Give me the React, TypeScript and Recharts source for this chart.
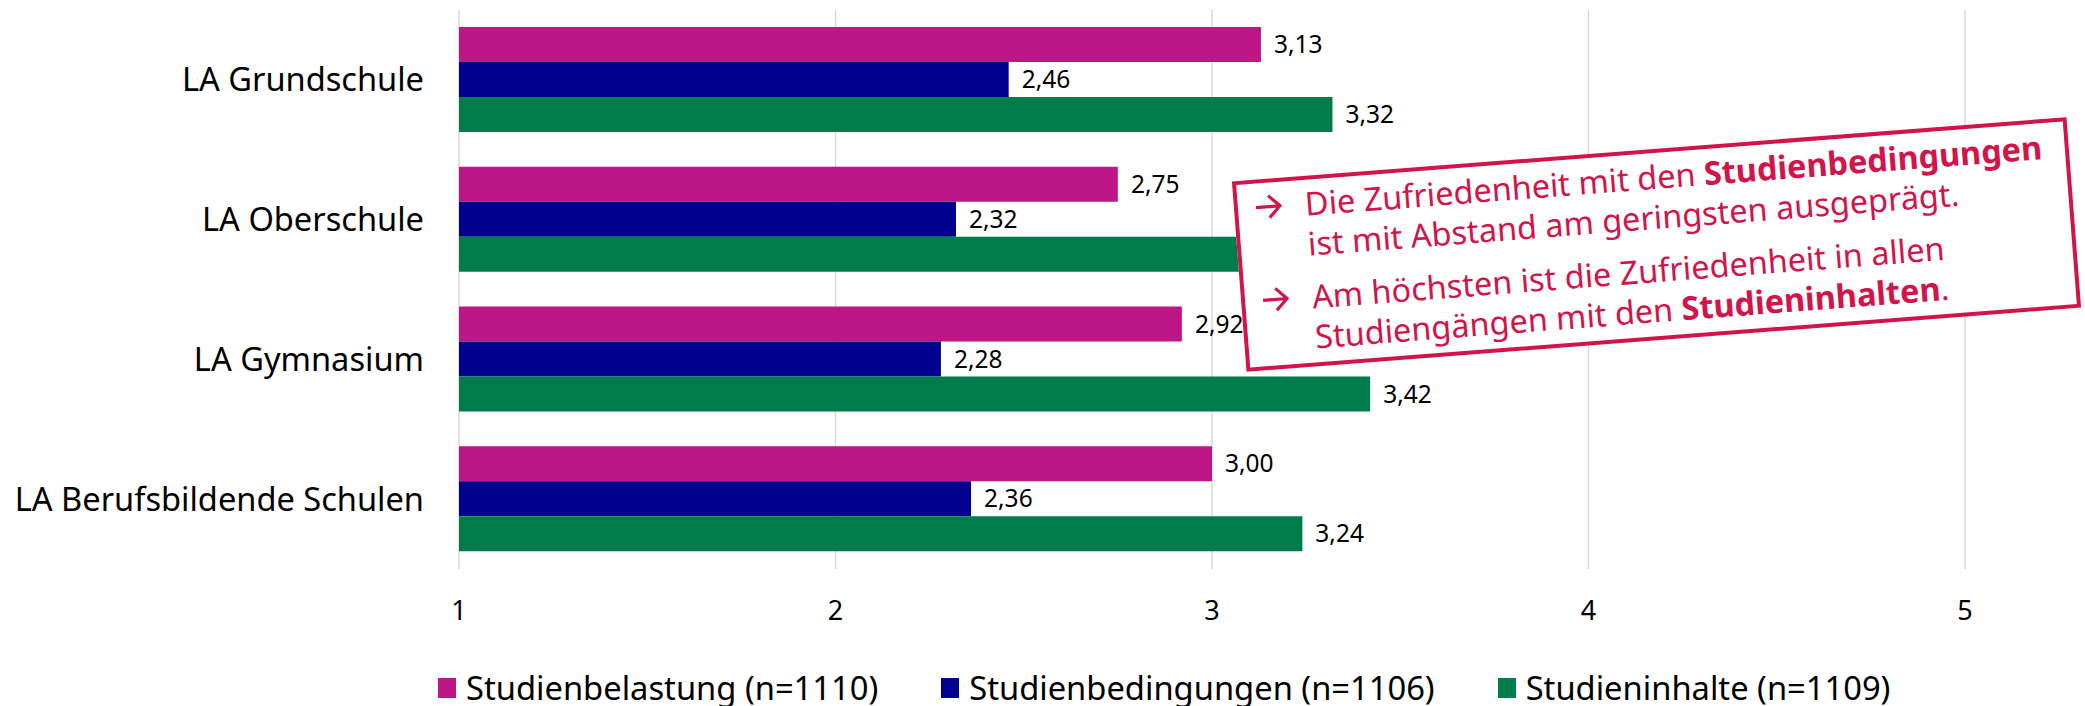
import React from "react";
import { BarChart, Bar, XAxis, YAxis, CartesianGrid, Legend, LabelList } from "recharts";

const categories = [
  "LA Grundschule",
  "LA Oberschule",
  "LA Gymnasium",
  "LA Berufsbildende Schulen",
];
const belastung = [3.13, 2.75, 2.92, 3.0];
const bedingungen = [2.46, 2.32, 2.28, 2.36];
const inhalte = [3.32, 3.3, 3.42, 3.24];
const xTicks = [1, 2, 3, 4, 5];
const seriesNames = [
  "Studienbelastung (n=1110)",
  "Studienbedingungen (n=1106)",
  "Studieninhalte (n=1109)",
];
const seriesColors = ["#bd1787", "#00008e", "#007b4c"];

const data = categories.map((name, i) => ({
  name,
  belastung: belastung[i],
  bedingungen: bedingungen[i],
  inhalte: inhalte[i],
}));

const fmt = (v: number) => v.toFixed(2).replace(".", ",");
const RED = "#d3144a";

function renderLegend() {
  return (
    <div style={{ display: "flex", paddingLeft: 438, gap: 63, alignItems: "center" }}>
      {seriesNames.map((n, i) => (
        <div key={n} style={{ display: "flex", alignItems: "center" }}>
          <span style={{ width: 18, height: 20, background: seriesColors[i], marginRight: 10 }} />
          <span style={{ fontSize: 32.7, color: "#000", lineHeight: "40px" }}>{n}</span>
        </div>
      ))}
    </div>
  );
}

function Arrow() {
  return (
    <span style={{ width: 50, height: 40, display: "flex", alignItems: "center" }}>
      <svg width={28} height={28} viewBox="0 0 28 28">
        <path d="M1 14 H25 M14 3 L25 14 L14 25" fill="none" stroke={RED} strokeWidth={3.2} />
      </svg>
    </span>
  );
}

export default function App() {
  return (
    <div
      style={{
        position: "absolute",
        left: 0,
        top: 0,
        width: 2085,
        height: 706,
        background: "#fff",
        fontFamily: "'Noto Sans', sans-serif",
      }}
    >
      <BarChart
        width={2085}
        height={706}
        data={data}
        layout="vertical"
        barGap={0}
        margin={{ top: 10, right: 120, bottom: 107, left: 0 }}
      >
        <CartesianGrid horizontal={false} stroke="#d9d9d9" strokeWidth={1.5} />
        <XAxis
          type="number"
          domain={[1, 5]}
          ticks={xTicks}
          axisLine={false}
          tickLine={false}
          tickMargin={26}
          tick={{ fill: "#000", fontSize: 27 }}
        />
        <YAxis
          type="category"
          dataKey="name"
          width={459}
          axisLine={false}
          tickLine={false}
          tickMargin={29}
          tick={{ fill: "#000", fontSize: 32.6 }}
        />
        <Legend
          layout="horizontal"
          verticalAlign="middle"
          align="center"
          content={renderLegend}
          wrapperStyle={{ top: 668, left: 0, width: 2085 }}
        />
        <Bar dataKey="belastung" name={seriesNames[0]} fill={seriesColors[0]} barSize={35} isAnimationActive={false}>
          <LabelList dataKey="belastung" position="right" offset={13} formatter={fmt} fill="#000" fontSize={24.5} />
        </Bar>
        <Bar dataKey="bedingungen" name={seriesNames[1]} fill={seriesColors[1]} barSize={35} isAnimationActive={false}>
          <LabelList dataKey="bedingungen" position="right" offset={13} formatter={fmt} fill="#000" fontSize={24.5} />
        </Bar>
        <Bar dataKey="inhalte" name={seriesNames[2]} fill={seriesColors[2]} barSize={35} isAnimationActive={false}>
          <LabelList dataKey="inhalte" position="right" offset={13} formatter={fmt} fill="#000" fontSize={24.5} />
        </Bar>
      </BarChart>

      <div
        style={{
          position: "absolute",
          left: 1238,
          top: 148.5,
          width: 837,
          height: 191,
          boxSizing: "border-box",
          border: `4px solid ${RED}`,
          background: "#fff",
          transform: "rotate(-4.4deg)",
          color: RED,
          fontSize: 32.5,
          lineHeight: "40px",
          padding: "4px 0 0 17px",
          whiteSpace: "nowrap",
        }}
      >
        <div style={{ display: "flex" }}>
          <Arrow />
          <span>
            Die Zufriedenheit mit den <b>Studienbedingungen</b>
            <br />
            ist mit Abstand am geringsten ausgeprägt.
          </span>
        </div>
        <div style={{ display: "flex", marginTop: 13 }}>
          <Arrow />
          <span>
            Am höchsten ist die Zufriedenheit in allen
            <br />
            Studiengängen mit den <b>Studieninhalten</b>.
          </span>
        </div>
      </div>
    </div>
  );
}
